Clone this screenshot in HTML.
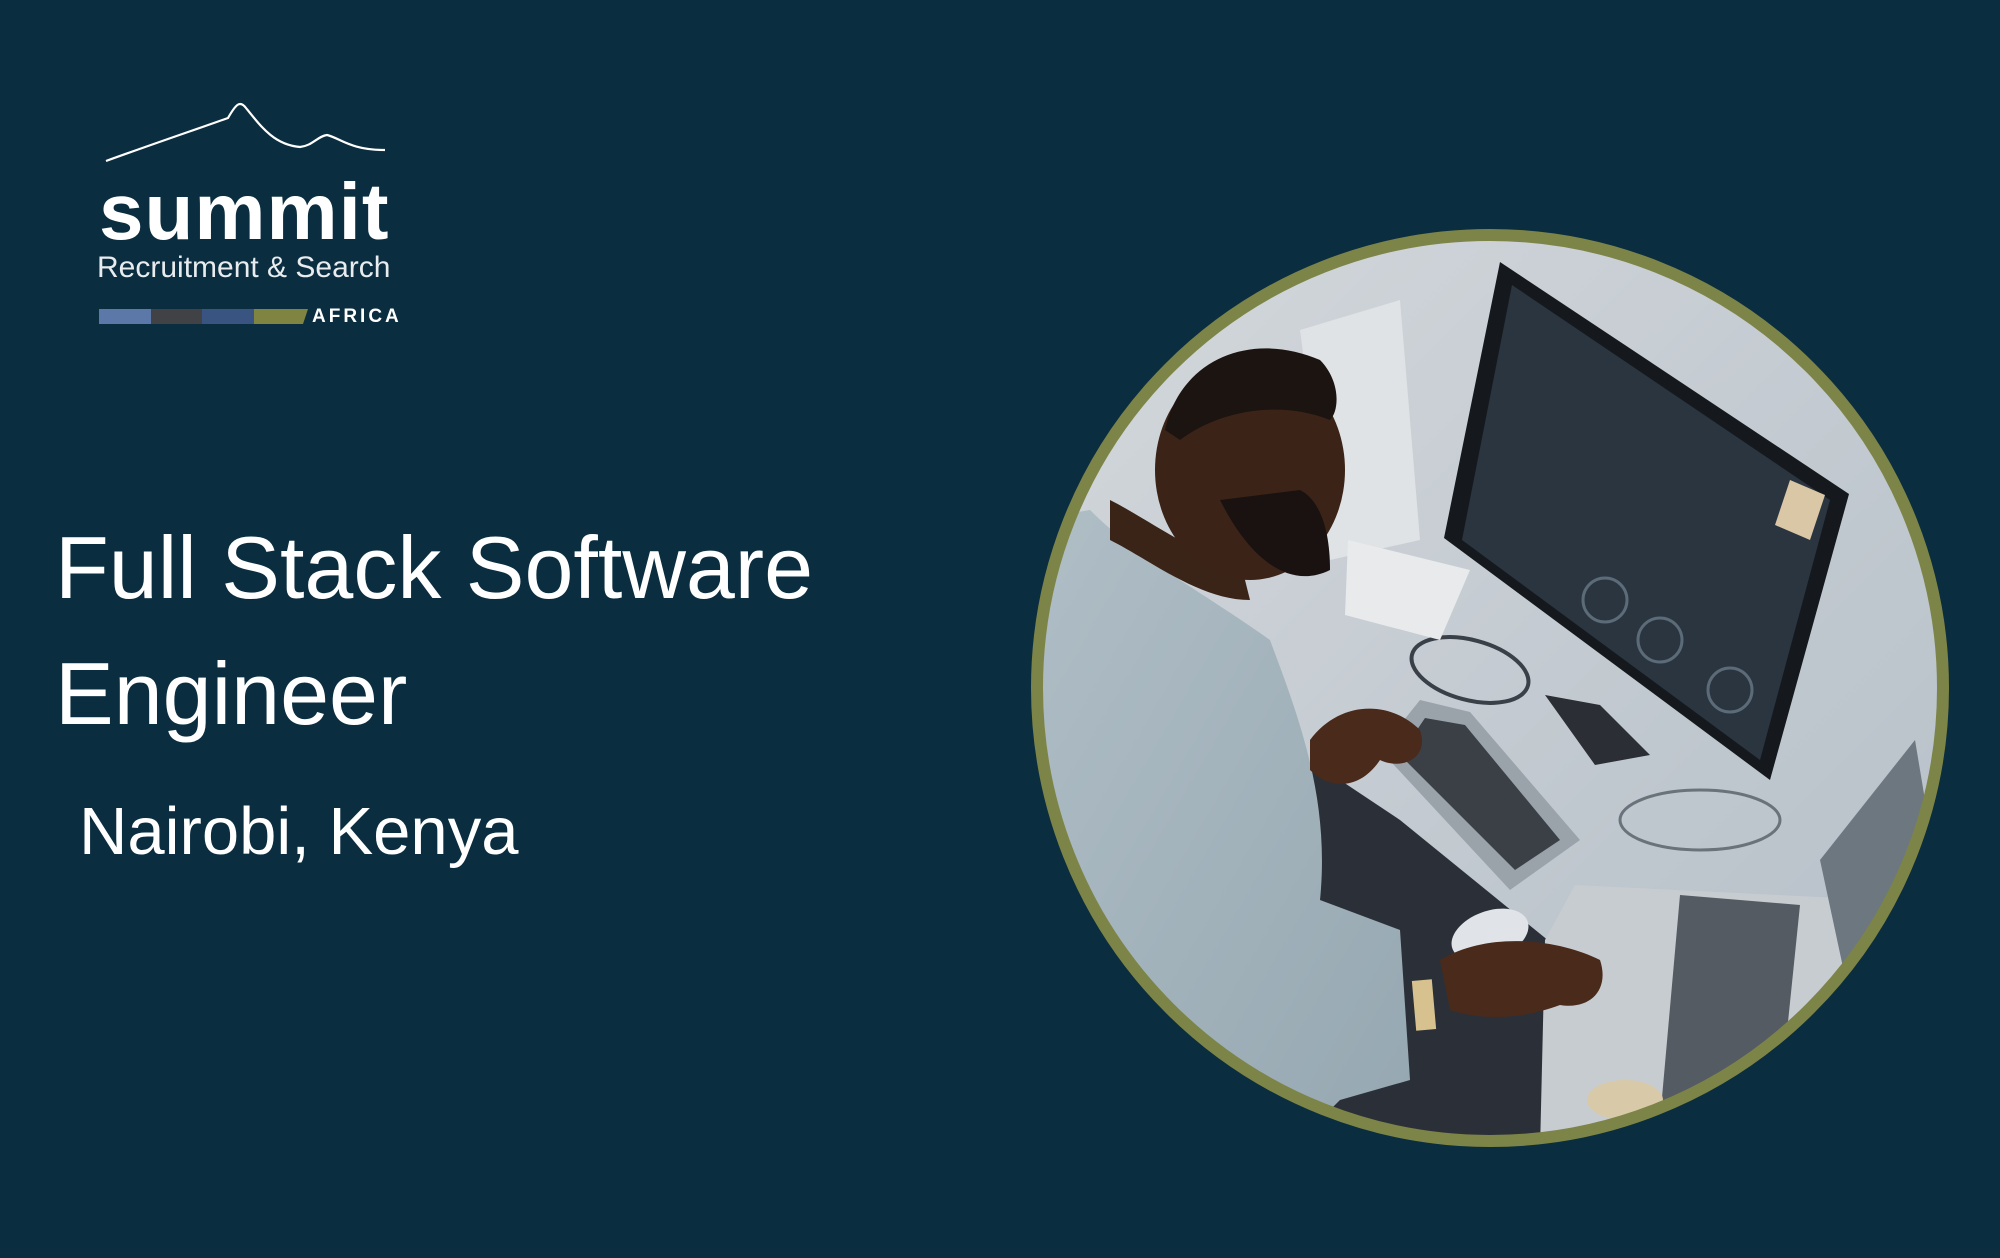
<!DOCTYPE html>
<html><head><meta charset="utf-8"><style>
html,body{margin:0;padding:0;}
body{width:2000px;height:1258px;background:#0a2d3f;position:relative;overflow:hidden;font-family:"Liberation Sans",sans-serif;color:#fff;}
.t{position:absolute;white-space:nowrap;line-height:1;}
</style></head><body>
<svg width="2000" height="1258" style="position:absolute;left:0;top:0">
  <path d="M106,161 C150,145 200,128 228,118 C236,104 240,100 246,108 C262,128 275,145 300,147 C312,146 318,136 327,135 C340,138 350,150 385,150" fill="none" stroke="#fff" stroke-width="2.2"/>
  <rect x="99" y="309" width="52" height="15" fill="#5b78a8"/>
  <rect x="151" y="309" width="51" height="15" fill="#414245"/>
  <rect x="202" y="309" width="52" height="15" fill="#3a5482"/>
  <polygon points="254,309 308,309 303,324 254,324" fill="#7f8540"/>
  <defs>
    <clipPath id="c"><circle cx="1490" cy="688" r="452"/></clipPath>
    <linearGradient id="bg" x1="0" y1="0" x2="1" y2="1">
      <stop offset="0" stop-color="#d4d8dc"/><stop offset="1" stop-color="#b4bec7"/>
    </linearGradient>
    <linearGradient id="shirt" x1="0" y1="0" x2="1" y2="1">
      <stop offset="0" stop-color="#b0bec6"/><stop offset="1" stop-color="#95a7b1"/>
    </linearGradient>
  </defs>
  <g clip-path="url(#c)">
    <rect x="1030" y="230" width="920" height="920" fill="url(#bg)"/>
    <polygon points="1300,330 1400,300 1420,540 1330,560" fill="#dfe3e6"/>
    <!-- cables -->
    <ellipse cx="1470" cy="670" rx="60" ry="30" fill="none" stroke="#3a4048" stroke-width="4" transform="rotate(15 1470 670)"/>
    <ellipse cx="1700" cy="820" rx="80" ry="30" fill="none" stroke="#6a727a" stroke-width="3"/>
    <!-- dark desk -->
    <polygon points="1310,760 1400,820 1560,950 1540,1150 1330,1150" fill="#2b3038"/>
    <!-- monitor -->
    <polygon points="1500,262 1849,494 1770,780 1444,538" fill="#15191e"/>
    <polygon points="1512,285 1830,500 1760,760 1462,540" fill="#2a3540"/>
    <circle cx="1605" cy="600" r="22" fill="none" stroke="#5c6b78" stroke-width="3"/>
    <circle cx="1660" cy="640" r="22" fill="none" stroke="#5c6b78" stroke-width="3"/>
    <circle cx="1730" cy="690" r="22" fill="none" stroke="#5c6b78" stroke-width="3"/>
    <polygon points="1790,480 1825,495 1810,540 1775,525" fill="#d9c7a5"/>
    <polygon points="1348,540 1470,570 1440,640 1345,615" fill="#e8eaec"/>
    <polygon points="1545,695 1600,705 1650,755 1595,765" fill="#2b2f35"/>
    <polygon points="1420,700 1470,712 1580,840 1510,890 1380,750" fill="#9aa2aa"/>
    <polygon points="1425,718 1465,725 1560,840 1515,870 1400,755" fill="#3b4047"/>
    <polygon points="1575,885 1880,900 1900,1000 1890,1150 1540,1150 1545,940" fill="#c7ccd1"/>
    <polygon points="1680,895 1800,905 1780,1100 1660,1120" fill="#555b62"/>
    <polygon points="1820,860 1915,740 1935,860 1850,1000" fill="#6d7780"/>
    <ellipse cx="1490" cy="935" rx="40" ry="24" fill="#e0e4e8" transform="rotate(-20 1490 935)"/>
    <path d="M1030,520 L1090,510 C1140,560 1200,590 1270,640 C1300,720 1330,800 1320,900 L1400,930 L1410,1080 L1340,1100 C1300,1140 1280,1160 1250,1160 L1030,1160 Z" fill="url(#shirt)"/>
    <path d="M1110,500 C1150,520 1200,560 1240,560 L1250,600 C1200,600 1150,560 1110,540 Z" fill="#3a2418"/>
    <ellipse cx="1250" cy="470" rx="95" ry="110" fill="#3b2417"/>
    <path d="M1165,430 C1180,360 1250,330 1320,360 C1340,380 1340,410 1330,420 C1280,400 1220,410 1180,440 Z" fill="#1c1410"/>
    <path d="M1220,500 C1250,560 1290,590 1330,570 C1330,530 1320,500 1300,490 Z" fill="#1a1210"/>
    <path d="M1310,740 C1340,700 1390,700 1420,730 C1430,760 1400,770 1380,760 C1360,790 1330,790 1310,770 Z" fill="#4a2a1a"/>
    <path d="M1440,960 C1490,930 1560,940 1600,960 C1610,990 1590,1010 1560,1005 C1520,1020 1480,1020 1450,1010 Z" fill="#4a2a1a"/>
    <rect x="1414" y="980" width="20" height="50" fill="#d7c28f" transform="rotate(-5 1424 1005)"/>
    <ellipse cx="1625" cy="1100" rx="38" ry="20" fill="#d8c9a8"/>
  </g>
  <circle cx="1490" cy="688" r="453" fill="none" stroke="#7d8447" stroke-width="12"/>
</svg>
<div class="t" style="left:99px;top:172px;font-size:80px;font-weight:bold;letter-spacing:1px;">summit</div>
<div class="t" style="left:97px;top:253px;font-size:30px;color:#e8ecef;">Recruitment &amp; Search</div>
<div class="t" style="left:312px;top:307px;font-size:19px;font-weight:bold;letter-spacing:3px;">AFRICA</div>
<div class="t" style="left:55px;top:524px;font-size:88px;">Full Stack Software</div>
<div class="t" style="left:55px;top:650px;font-size:88px;">Engineer</div>
<div class="t" style="left:79px;top:798px;font-size:67px;">Nairobi, Kenya</div>
</body></html>
